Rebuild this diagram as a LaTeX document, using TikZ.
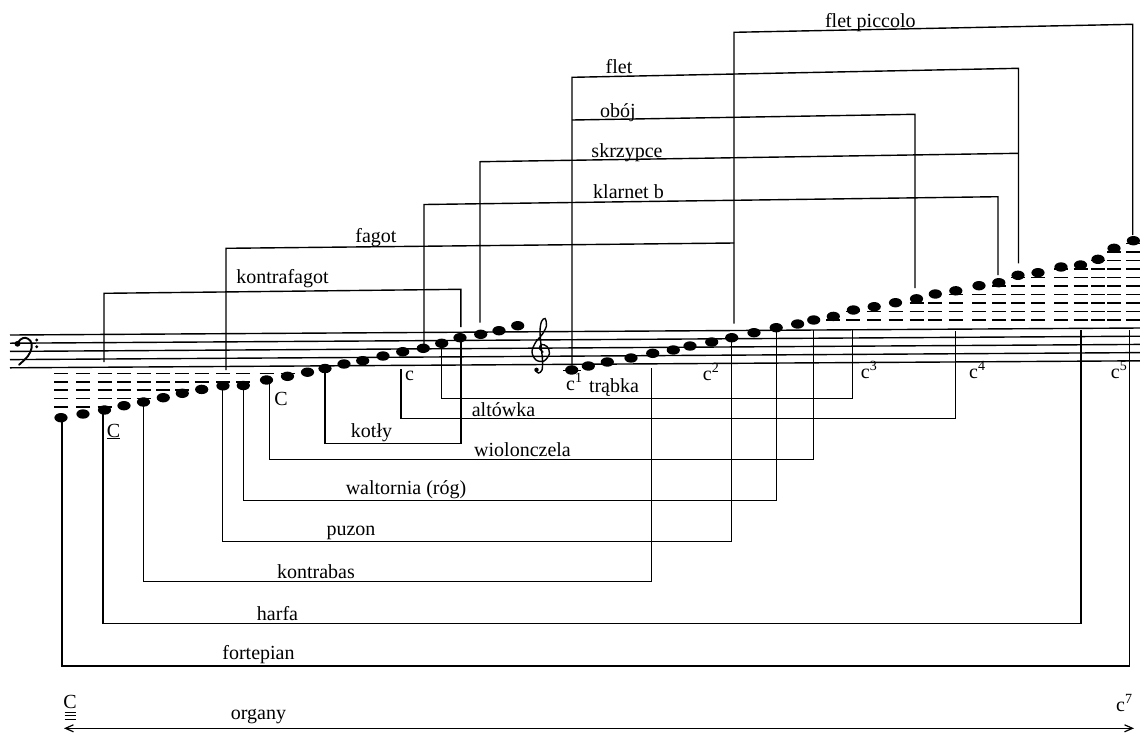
\documentclass[tikz,border=0pt]{standalone}
\usepackage{fontspec}
\setmainfont{Liberation Serif}
\usetikzlibrary{arrows.meta}
\begin{document}
\begin{tikzpicture}[x=1pt,y=-1pt,
  staffline/.style={line width=1.4pt},
  ledgerline/.style={line width=1.7pt},
  bracket/.style={line width=1.4pt},
  lbl/.style={font=\fontsize{20}{24}\selectfont, inner sep=0pt, anchor=base},
  clefline/.style={line width=1.5pt, line cap=round}]
\useasboundingbox (0,0) rectangle (1140,732);
\fill[white] (0,0) rectangle (1140,732);

% staff
\foreach \i in {0,...,4}
  \draw[staffline] (10,{335+8.2*\i}) -- (1140,{328+8.2*\i});

% note positions
\foreach \i/\x/\y in {1/61/417.7, 2/83/414, 3/104.5/410, 4/124/405.7, 5/143.5/402,
  6/163.3/397.7, 7/182.3/393.3, 8/201.7/389.4, 9/223/385.8, 10/243.3/385.5,
  11/266.5/380, 12/287.5/376.3, 13/307.5/372.2, 14/325/368.5, 15/344/364,
  16/362.7/360.7, 17/383/356, 18/402.7/351.7, 19/423.3/348.3, 20/441.7/343.3,
  21/460/337.7, 22/480.7/334.3, 23/499/330.7, 24/517.7/325.7,
  25/571.7/370, 26/588.3/366, 27/607.3/362, 28/631/358, 29/652.7/353.3,
  30/673.3/350, 31/690/346, 32/711.7/342, 33/731.7/337.7, 34/754/332.7,
  35/776.2/327.7, 36/797.6/324, 37/813.7/320, 38/833.3/316.4, 39/853.4/310,
  40/874.2/306.7, 41/895.5/302.7, 42/916.5/298.8, 43/935.3/294, 44/955.8/290.8,
  45/979/285.7, 46/998.8/282.7, 47/1018/275.3, 48/1038/272.7, 49/1061/267,
  50/1080.5/265, 51/1098/259.3, 52/1114/248.3, 53/1133.4/240.7}
  \coordinate (n\i) at (\x,\y);

% ledger lines below the staff
\foreach \x/\n in {61/5,83/5,104.5/5,124/4,143.5/4,163.3/3,182.3/3,201.7/2,223/2,243.3/2,266.5/1,287.5/1}
  \foreach \k in {1,...,\n}
    \draw[ledgerline] ({\x-7},{373.5+8.3*(\k-1)}) -- ({\x+7},{373.5+8.3*(\k-1)});
\draw[ledgerline] (563,370.5) -- (580.5,370.5);
% ledger lines above the staff
\foreach \x/\n in {833.3/1,853.4/2,874.2/2,895.5/2,916.5/3,935.3/3,955.8/4,979/4,998.8/5,1018/6,1038/6,1061/7,1080.5/7,1098/8,1114/9,1133.4/10}
  \foreach \k in {1,...,\n}
    \draw[ledgerline] ({\x-7},{320-8.5*(\k-1)}) -- ({\x+7},{320-8.5*(\k-1)});

% upper brackets
\coordinate (kfA) at (104,362); \coordinate (kfB) at (104,293.3);
\coordinate (kfC) at (460.8,289.3); \coordinate (kfD) at (460.8,327);
\draw[bracket] (kfA) -- (kfB) -- (kfC) -- (kfD);
\coordinate (fgA) at (226,370); \coordinate (fgB) at (226,248.3); \coordinate (fgC) at (734,243);
\draw[bracket] (fgA) -- (fgB) -- (fgC);
\coordinate (klA) at (424,345); \coordinate (klB) at (424,204.5);
\coordinate (klC) at (998,196.7); \coordinate (klD) at (998,275);
\draw[bracket] (klA) -- (klB) -- (klC) -- (klD);
\coordinate (skA) at (480,322.7); \coordinate (skB) at (480,161.7); \coordinate (skC) at (1018.5,153.3);
\draw[bracket] (skA) -- (skB) -- (skC);
\coordinate (obB) at (572,120); \coordinate (obC) at (915,114.3); \coordinate (obD) at (915,288);
\draw[bracket] (obB) -- (obC) -- (obD);
\coordinate (flA) at (572,365.5); \coordinate (flB) at (572,77.3);
\coordinate (flC) at (1018.5,68.3); \coordinate (flD) at (1018.5,263.3);
\draw[bracket] (flA) -- (flB) -- (flC) -- (flD);
\coordinate (fpA) at (734,323.5); \coordinate (fpB) at (734,32.3);
\coordinate (fpC) at (1132.7,24.3); \coordinate (fpD) at (1132.7,235);
\draw[bracket] (fpA) -- (fpB) -- (fpC) -- (fpD);

% lower brackets
\coordinate (trA) at (441.7,343.3); \coordinate (trB) at (441.7,398.3);
\coordinate (trC) at (852.7,398.3); \coordinate (trD) at (852.7,330);
\draw[bracket] (trA) -- (trB) -- (trC) -- (trD);
\coordinate (alA) at (401,369); \coordinate (alB) at (401,418.3);
\coordinate (alC) at (955.5,418.3); \coordinate (alD) at (955.5,331);
\draw[bracket] (alA) -- (alB) -- (alC) -- (alD);
\coordinate (koA) at (325,368.5); \coordinate (koB) at (325,443.3);
\coordinate (koC) at (460.8,443.3); \coordinate (koD) at (460.8,338);
\draw[bracket] (koA) -- (koB) -- (koC) -- (koD);
\coordinate (wiA) at (269.5,382); \coordinate (wiB) at (269.5,459.3);
\coordinate (wiC) at (813.3,459.3); \coordinate (wiD) at (813.3,329.5);
\draw[bracket] (wiA) -- (wiB) -- (wiC) -- (wiD);
\coordinate (waA) at (243.3,386); \coordinate (waB) at (243.3,500.7);
\coordinate (waC) at (776.2,500.7); \coordinate (waD) at (776.2,328);
\draw[bracket] (waA) -- (waB) -- (waC) -- (waD);
\coordinate (puA) at (222.7,386); \coordinate (puB) at (222.7,541.7);
\coordinate (puC) at (731.5,541.7); \coordinate (puD) at (731.5,338);
\draw[bracket] (puA) -- (puB) -- (puC) -- (puD);
\coordinate (kbA) at (143.5,402); \coordinate (kbB) at (143.5,581.7);
\coordinate (kbC) at (651.5,581.7); \coordinate (kbD) at (651.5,368);
\draw[bracket] (kbA) -- (kbB) -- (kbC) -- (kbD);
\coordinate (haA) at (103,414); \coordinate (haB) at (103,623.5);
\coordinate (haC) at (1081,623.5); \coordinate (haD) at (1081,330);
\draw[bracket] (haA) -- (haB) -- (haC) -- (haD);
\coordinate (foA) at (62,420); \coordinate (foB) at (62,666);
\coordinate (foC) at (1129.5,666); \coordinate (foD) at (1129.5,330);
\draw[bracket] (foA) -- (foB) -- (foC) -- (foD);

% organ range arrow
\coordinate (orL) at (64,728.3); \coordinate (orR) at (1134,728.3);
\draw[bracket, line width=1.2pt, {Straight Barb[length=8pt,width=7pt]}-{Straight Barb[length=8pt,width=7pt]}] (orL) -- (orR);

% note heads
\foreach \i in {1,...,53}
  \fill (n\i) ellipse [x radius=6.6pt, y radius=4.7pt];

% bass clef
\draw[clefline, line width=1.9pt] plot[smooth, tension=0.6] coordinates {(17,344) (20.5,339.5) (25.5,337.8) (30.5,341) (31.7,347.5) (28,356) (19,364.8)};
\fill (17.5,343.8) circle[radius=2.9pt];
\fill (36.7,340) circle[radius=1.6pt];
\fill (36.7,346.7) circle[radius=1.6pt];

% treble clef
\draw[clefline, line width=1.4pt] plot[smooth, tension=0.55] coordinates {(543,352) (539.5,348.5) (541.5,344.5) (547,346.5) (549.5,353.5) (544,361) (536,360) (532,352) (535.5,342.5) (542.5,334) (546.5,325.5) (545,318.5) (541.5,321.5) (540,331) (541,345) (542.5,360) (542,370) (538.5,373) (535.5,370.5)};
\fill (536.5,369.8) circle[radius=2.2pt];

% instrument labels
\node[lbl] (lfp) at (870.3,27.5) {flet piccolo};
\node[lbl] (lfl) at (619,73.7) {flet};
\node[lbl] (lob) at (618,117.5) {obój};
\node[lbl] (lsk) at (627,157.5) {skrzypce};
\node[lbl] (lkl) at (628.5,198.7) {klarnet b};
\node[lbl] (lfg) at (376,242.3) {fagot};
\node[lbl] (lkf) at (282.5,283.3) {kontrafagot};
\node[lbl] (ltr) at (614,392.5) {trąbka};
\node[lbl] (lal) at (503.5,416) {altówka};
\node[lbl] (lko) at (371.5,437) {kotły};
\node[lbl] (lwi) at (522.5,456) {wiolonczela};
\node[lbl] (lwa) at (406,494) {waltornia (róg)};
\node[lbl] (lpu) at (351,535.5) {puzon};
\node[lbl] (lkb) at (316,578) {kontrabas};
\node[lbl] (lha) at (277.5,620) {harfa};
\node[lbl] (lfo) at (258.5,659) {fortepian};
\node[lbl] (lor) at (258.5,719.5) {organy};

% pitch labels
\node[lbl] (lCk) at (113.5,437) {\underline{C}};
\node[lbl] (lC) at (281,405) {C};
\node[lbl] (lc) at (409.5,380.7) {c};
\node[lbl, anchor=base west] (lc1) at (566,390) {c\textsuperscript{1}};
\node[lbl, anchor=base west] (lc2) at (702.7,380) {c\textsuperscript{2}};
\node[lbl, anchor=base west] (lc3) at (860.7,378) {c\textsuperscript{3}};
\node[lbl, anchor=base west] (lc4) at (969,378) {c\textsuperscript{4}};
\node[lbl, anchor=base west] (lc5) at (1110.7,378) {c\textsuperscript{5}};
\node[lbl] (lCs) at (70,708) {C};
\foreach \d in {712,715.5,719}
  \draw[line width=0.8pt] (64.5,\d) -- (75.5,\d);
\node[lbl, anchor=base west] (lc7) at (1116,711) {c\textsuperscript{7}};
\end{tikzpicture}
\end{document}
